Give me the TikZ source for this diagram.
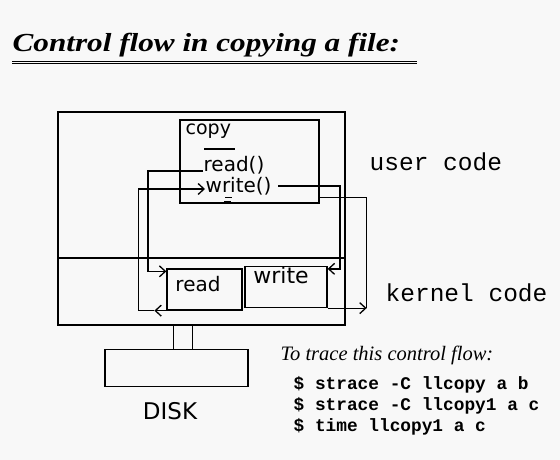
\documentclass[tikz,border=0pt]{standalone}
\usepackage{fontspec}
\setmainfont{Liberation Serif}
\setmonofont{Liberation Mono}
\newfontfamily\handfont{DejaVu Sans}
\usetikzlibrary{arrows.meta}
\definecolor{bgcol}{RGB}{248,248,248}

\begin{document}
\begin{tikzpicture}[x=1pt,y=-1pt,line width=1.3pt,
    box/.style={draw,inner sep=0pt},
    hand/.style={font=\handfont\fontsize{#1}{#1}\selectfont,inner sep=0pt},
    flow/.style={-{Straight Barb[length=6pt,width=11pt]}},
    codeline/.style={anchor=west,inner sep=0pt,font=\ttfamily\bfseries\fontsize{17.8}{21}\selectfont}]
  \fill[bgcol] (0,0) rectangle (560,460);
  \useasboundingbox (0,0) rectangle (560,460);

  \node[anchor=west,inner sep=0pt,font=\bfseries\itshape\fontsize{26}{26}\selectfont] (title) at (12,45) {\scalebox{1.2}[1]{Control flow in copying a file:}};
  \draw[double=bgcol,double distance=1.2pt,line width=0.9pt] (12,62.5) -- (417,62.5);

  \node[box,minimum width=287,minimum height=213] (sys) at (201.5,218.5) {};
  \coordinate (div) at (0,258);
  \draw (sys.west |- div) -- (sys.east |- div);

  \node[box,minimum width=139,minimum height=83] (copybox) at (249.5,161.5) {};
  \node[hand=19,anchor=west] (copylbl) at (185,131) {copy};
  \draw (204,149) -- (235,149);
  \node[hand=20,anchor=west] (readcall) at (203,165) {read()};
  \node[hand=20,anchor=west] (writecall) at (205,186) {write()};
  \draw[line width=1pt] (225,197) -- (232,197) (224,201) -- (231,201);

  \node[box,minimum width=75,minimum height=41] (readbox) at (204.5,289.5) {};
  \node[hand=20] (readlbl) at (198,284) {read};
  \node[box,minimum width=82,minimum height=41] (writebox) at (286,287) {};
  \node[hand=22] (writelbl) at (281,275) {write};

  \node[box,minimum width=143,minimum height=37] (disk) at (176.5,368) {};
  \node[hand=23] (disklbl) at (170,411) {DISK};
  \draw ([xshift=-3pt]disk.north) -- ([xshift=-3pt]disk.north |- sys.south);
  \draw ([xshift=16pt]disk.north) -- ([xshift=16pt]disk.north |- sys.south);

  \draw[flow] ([yshift=-6pt]readcall.west) -- ++(-55,0) |- ([yshift=-3pt]readbox.north west);
  \coordinate (rback) at ([xshift=-12pt]readbox.south west);
  \draw[flow] (readbox.south west) -- (rback);
  \draw[flow] (rback) -- ++(-16,0) |- ([yshift=-3pt]writecall.west);

  \coordinate (wx) at (340,0);
  \draw[flow] ([xshift=6pt]writecall.east) -- (writecall.east -| wx) |- ([yshift=-3pt]writebox.north east);
  \coordinate (wback) at ([xshift=39pt]writebox.south east);
  \draw[flow] (writebox.south east) -- (wback);
  \draw (wback) |- ([yshift=6pt]copybox.south east);

  \node[anchor=west,inner sep=0pt,font=\ttfamily\fontsize{24.5}{24.5}\selectfont] (userlbl) at (369,162) {user code};
  \node[anchor=west,inner sep=0pt,font=\ttfamily\fontsize{24.5}{24.5}\selectfont] (kernlbl) at (385,293) {kernel code};

  \node[anchor=west,inner sep=0pt,font=\itshape\fontsize{20.5}{20.5}\selectfont] (tracelbl) at (280,355) {To trace this control flow:};
  \node[codeline] (cmd1) at (293,385) {\$ strace -C llcopy a b};
  \node[codeline] (cmd2) at (293,406) {\$ strace -C llcopy1 a c};
  \node[codeline] (cmd3) at (293,427) {\$ time llcopy1 a c};
\end{tikzpicture}
\end{document}
